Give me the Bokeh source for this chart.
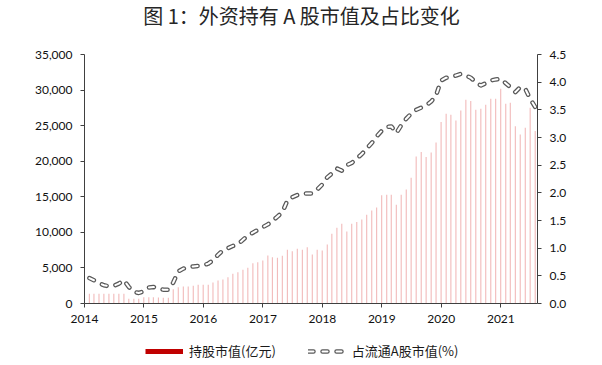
import pandas as pd
from bokeh.plotting import figure
from bokeh.layouts import column
from bokeh.models import (Range1d, LinearAxis, FixedTicker, NumeralTickFormatter,
                          DatetimeTickFormatter, Legend, LegendItem, Label, ColumnDataSource)
from bokeh.embed import file_html
from bokeh.resources import INLINE

title_text = "图 1：外资持有 A 股市值及占比变化"
bar_label = "持股市值(亿元)"
line_label = "占流通A股市值(%)"
first_month = "2014-01-01"

# 持股市值 (亿元), monthly Jan 2014 - Jul 2021
market_value = [
    1360, 1360, 1360, 1360, 1360, 1360, 1360, 1360, 660, 660, 660, 890,
    890, 890, 860, 820, 820, 2000, 2300, 2400, 2400, 2500, 2650, 2650,
    2620, 2950, 3230, 3370, 3700, 4170, 4410, 4730, 5020, 5670, 5810, 6050,
    6750, 6510, 6420, 6700, 7550, 7350, 7680, 7550, 7920, 6890, 7550, 7450,
    8300, 9800, 10640, 11200, 10120, 11200, 11440, 11810, 12470, 13080, 13500, 15230,
    15280, 15280, 13870, 15280, 16030, 17670, 20670, 21280, 20580, 21230, 22640, 25500,
    26670, 26530, 25730, 27140, 28640, 28450, 27230, 27370, 27930, 28780, 28780, 30180,
    28080, 28220, 24930, 23760, 24700, 27510, 24230,
]
# 占流通A股市值 (%)
share_pct = [
    0.46, 0.42, 0.37, 0.33, 0.31, 0.32, 0.36, 0.42, 0.30, 0.21, 0.19, 0.22,
    0.29, 0.30, 0.27, 0.25, 0.25, 0.38, 0.58, 0.63, 0.66, 0.67, 0.68, 0.69,
    0.72, 0.78, 0.88, 0.96, 1.00, 1.04, 1.07, 1.15, 1.23, 1.28, 1.33, 1.38,
    1.43, 1.49, 1.57, 1.65, 1.86, 1.92, 1.96, 1.98, 1.99, 1.99, 2.06, 2.15,
    2.28, 2.35, 2.44, 2.40, 2.50, 2.54, 2.62, 2.70, 2.80, 2.90, 3.02, 3.12,
    3.19, 3.20, 3.08, 3.22, 3.34, 3.43, 3.50, 3.54, 3.58, 3.65, 3.76, 4.03,
    4.08, 4.09, 4.12, 4.15, 4.12, 4.08, 4.00, 3.94, 3.98, 4.03, 4.05, 4.06,
    3.98, 3.91, 3.82, 3.91, 3.88, 3.70, 3.55,
]
year_ticks = [2014, 2015, 2016, 2017, 2018, 2019, 2020, 2021]
left_ticks = [0, 5000, 10000, 15000, 20000, 25000, 30000, 35000]
right_ticks = [0.0, 0.5, 1.0, 1.5, 2.0, 2.5, 3.0, 3.5, 4.0, 4.5]

dates = pd.date_range(first_month, periods=len(market_value), freq="MS") + pd.offsets.MonthEnd(0)
src = ColumnDataSource(dict(date=dates, value=market_value, pct=share_pct))

TICK_FONT = "Lato"
CJK_FONT = "Noto Sans CJK SC"
DAY_MS = 86400000
BAR_RED = "#C00000"
LINE_GREY = "#595959"
FRAME_LEFT = 84   # the column aligns every strip's frame with the main chart's frame

def strip(height):
    f = figure(width=602, height=height, output_backend="svg", toolbar_location=None,
               x_axis_location=None, y_axis_location=None,
               x_range=Range1d(0, 1), y_range=Range1d(0, 1),
               min_border_left=0, min_border_right=0, min_border_top=0, min_border_bottom=0)
    f.outline_line_color = None
    f.xgrid.visible = False
    f.ygrid.visible = False
    return f

# ---- title strip ----
tf = strip(40)
tf.add_layout(Label(x=301 - FRAME_LEFT, y=25, x_units="screen", y_units="screen",
                    text=title_text, text_align="center", text_baseline="middle",
                    text_font=CJK_FONT, text_font_size="20px", text_color="#262626"))

# ---- main chart ----
p = figure(width=602, height=295, x_axis_type="datetime",
           x_range=Range1d(pd.Timestamp("2014-01-01"), pd.Timestamp("2021-08-14")),
           y_range=Range1d(0, 35000),
           output_backend="svg", toolbar_location=None,
           min_border_left=FRAME_LEFT, min_border_right=65, min_border_top=14,
           min_border_bottom=32)
p.extra_y_ranges = {"pct": Range1d(0, 4.5)}

p.vbar(x="date", top="value", width=7 * DAY_MS, source=src,
       fill_color="#F2BCBC", line_color=None)
p.line("date", "pct", source=src, y_range_name="pct", line_color=LINE_GREY,
       line_width=4.5, line_dash="5 9", line_cap="round", line_join="round")
p.line("date", "pct", source=src, y_range_name="pct", line_color="white",
       line_width=2, line_dash="5 9", line_cap="round", line_join="round")

p.xgrid.visible = False
p.ygrid.visible = False
p.outline_line_color = None

def style_axis(ax, standoff):
    ax.axis_line_color = "#404040"
    ax.major_tick_line_color = "#404040"
    ax.major_tick_out = 4
    ax.major_tick_in = 0
    ax.minor_tick_line_color = None
    ax.major_label_text_font = TICK_FONT
    ax.major_label_text_font_size = "12px"
    ax.major_label_text_color = "#111111"
    ax.major_label_standoff = standoff

p.xaxis.ticker = FixedTicker(ticks=[pd.Timestamp(f"{y}-01-01").value / 1e6 for y in year_ticks])
p.xaxis.formatter = DatetimeTickFormatter(years="%Y", months="%Y", days="%Y", hours="%Y")
style_axis(p.xaxis[0], 7)

p.yaxis.ticker = FixedTicker(ticks=left_ticks)
p.yaxis.formatter = NumeralTickFormatter(format="0,0")
style_axis(p.yaxis[0], 8)

raxis = LinearAxis(y_range_name="pct", ticker=FixedTicker(ticks=right_ticks),
                   formatter=NumeralTickFormatter(format="0.0"))
style_axis(raxis, 8)
p.add_layout(raxis, "right")

# ---- legend strip (legend-only renderers sit below the strip's visible range) ----
lf = strip(30)
r_bar = lf.line(x=[0, 1], y=[-5, -5], line_color=BAR_RED, line_width=5)
r_out = lf.line(x=[0, 1], y=[-5, -5], line_color=LINE_GREY, line_width=4.5,
                line_dash="5 9", line_cap="round")
r_in = lf.line(x=[0, 1], y=[-5, -5], line_color="white", line_width=2,
               line_dash="5 9", line_cap="round")
legend = Legend(items=[LegendItem(label=bar_label, renderers=[r_bar]),
                       LegendItem(label=line_label, renderers=[r_out, r_in])],
                orientation="horizontal", location=(145 - FRAME_LEFT, 5),
                border_line_color=None, background_fill_alpha=0,
                padding=0, margin=0, spacing=32, glyph_width=38, glyph_height=16,
                label_standoff=6, label_text_font=CJK_FONT,
                label_text_font_size="13px", label_text_color="#1a1a1a")
lf.add_layout(legend)

layout = column(tf, p, lf, spacing=0)
open("out.html", "w").write(file_html(layout, INLINE))
